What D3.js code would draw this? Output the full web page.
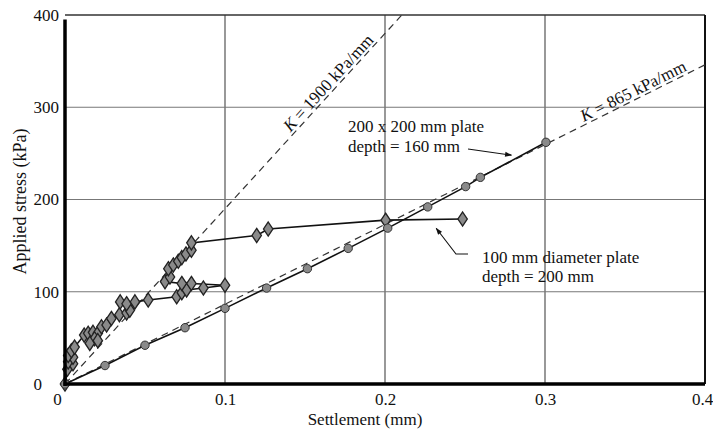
<!DOCTYPE html>
<html>
<head>
<meta charset="utf-8">
<script src="https://cdn.jsdelivr.net/npm/d3@7"></script>
<style>
  html, body { margin: 0; padding: 0; background: #fff; }
  svg { display: block; font-family: "Liberation Serif", "Times New Roman", serif; }
</style>
</head>
<body>
<svg id="chart" width="713" height="438"></svg>
<script>
// Axis ticks
const settlementTicks = [0, 0.1, 0.2, 0.3, 0.4];
const stressTicks = [0, 100, 200, 300, 400];

// 200 x 200 mm plate, depth 160 mm (circles)
const squareSettlement = [0, 0.025, 0.05, 0.075, 0.1, 0.126, 0.1515, 0.177, 0.2017, 0.2267, 0.2504, 0.2596, 0.3006];
const squareStress     = [0, 20, 42, 61, 82, 104, 125, 147, 169, 192, 214, 224, 262];

// 100 mm diameter plate, depth 200 mm (diamonds), load/unload cycles
const roundSettlement = [0, 0.0015, 0.005, 0.002, 0.005, 0.002, 0.004, 0.006, 0.012, 0.0145, 0.0175, 0.0205,
  0.0185, 0.0155, 0.0205, 0.0228, 0.026, 0.029, 0.034, 0.0385, 0.0405, 0.0345, 0.0385, 0.0437, 0.052,
  0.0698, 0.073, 0.076, 0.0865, 0.1, 0.079, 0.073, 0.0625, 0.0656, 0.0646, 0.0677, 0.0708, 0.073,
  0.0756, 0.079, 0.079, 0.1198, 0.127, 0.2004, 0.2485];
const roundStress = [0, 16, 22, 24, 29, 31, 36, 40, 53, 55, 56, 55,
  49, 44, 47, 62, 64, 71, 75, 77, 80, 89, 87, 89, 91,
  94.5, 99, 102, 104, 107, 109, 109, 111, 116, 125, 129, 133, 137,
  141, 145, 153, 161, 168, 177.6, 178.8];

// Secant stiffness lines (kPa/mm)
const stiffnessValues = [1900, 865];
const stiffnessLabels = ["1900 kPa/mm", "865 kPa/mm"];

const svg = d3.select("#chart");
const x = d3.scaleLinear().domain([0, 0.4]).range([65, 705]);
const y = d3.scaleLinear().domain([0, 400]).range([384, 15]);

// Grid
const grid = svg.append("g");
grid.selectAll("line.v").data(settlementTicks.filter(d => d > 0 && d < 0.4)).join("line")
  .attr("x1", d => x(d)).attr("x2", d => x(d)).attr("y1", y(0)).attr("y2", y(400))
  .attr("stroke", "#444").attr("stroke-width", 1.1);
grid.selectAll("line.h").data(stressTicks.filter(d => d > 0 && d < 400)).join("line")
  .attr("y1", d => y(d)).attr("y2", d => y(d)).attr("x1", x(0)).attr("x2", x(0.4))
  .attr("stroke", "#777").attr("stroke-width", 1.1);

// Frame: thin top and right
svg.append("line").attr("x1", x(0)).attr("x2", x(0.4)).attr("y1", y(400)).attr("y2", y(400))
  .attr("stroke", "#333").attr("stroke-width", 1.5);
svg.append("line").attr("x1", x(0.4)).attr("x2", x(0.4)).attr("y1", y(400)).attr("y2", y(0))
  .attr("stroke", "#111").attr("stroke-width", 2);

// Stiffness lines
const dash = svg.append("g");
stiffnessValues.forEach((k, i) => {
  const xEnd = Math.min(0.4, 400 / k);
  dash.append("line")
    .attr("x1", x(0)).attr("y1", y(0)).attr("x2", x(xEnd)).attr("y2", y(k * xEnd))
    .attr("stroke", "#333").attr("stroke-width", 1.2).attr("stroke-dasharray", "7,5");
});

// Stiffness labels along the lines
const labelAt = [0.1685, 0.3575];
stiffnessValues.forEach((k, i) => {
  const px = x(labelAt[i]), py = y(k * labelAt[i]);
  const ang = Math.atan2(y(k) - y(0), x(1) - x(0)) * 180 / Math.PI;
  const t = svg.append("text")
    .attr("transform", `translate(${px},${py}) rotate(${ang})`)
    .attr("text-anchor", "middle").attr("dy", -3)
    .attr("font-size", 17).attr("fill", "#111");
  t.append("tspan").attr("font-style", "italic").text("K");
  t.append("tspan").text(" = " + stiffnessLabels[i]);
});

const line = d3.line().x(d => x(d[0])).y(d => y(d[1]));
const squareData = squareSettlement.map((s, i) => [s, squareStress[i]]);
const roundData = roundSettlement.map((s, i) => [s, roundStress[i]]);

svg.append("path").datum(squareData).attr("d", line)
  .attr("fill", "none").attr("stroke", "#111").attr("stroke-width", 1.6);
svg.append("path").datum(roundData).attr("d", line)
  .attr("fill", "none").attr("stroke", "#111").attr("stroke-width", 1.6);

svg.append("g").selectAll("path").data(roundData).join("path")
  .attr("d", d3.symbol(d3.symbolDiamond, 58))
  .attr("transform", d => `translate(${x(d[0])},${y(d[1])}) scale(1.15,1)`)
  .attr("fill", "#8a8a8a").attr("stroke", "#222").attr("stroke-width", 1.2);
svg.append("g").selectAll("circle").data(squareData).join("circle")
  .attr("cx", d => x(d[0])).attr("cy", d => y(d[1])).attr("r", 4.2)
  .attr("fill", "#8a8a8a").attr("stroke", "#333").attr("stroke-width", 1);

// Axes (thick left and bottom)
const xAxis = svg.append("g").attr("transform", `translate(0,${y(0)})`)
  .call(d3.axisBottom(x).tickValues(settlementTicks).tickSize(0).tickPadding(9)
    .tickFormat(d => d === 0 ? "0" : d3.format(".1f")(d)));
xAxis.select(".domain").remove();
xAxis.selectAll("text").attr("font-size", 17).attr("font-family", "Liberation Serif").attr("fill", "#111");
xAxis.selectAll(".tick").filter(d => d === 0).select("text").attr("x", -8);
xAxis.selectAll(".tick").filter(d => d === 0.4).select("text").attr("x", -3);

const yAxis = svg.append("g").attr("transform", `translate(${x(0)},0)`)
  .call(d3.axisLeft(y).tickValues(stressTicks).tickSize(0).tickPadding(6));
yAxis.select(".domain").remove();
yAxis.selectAll("text").attr("font-size", 17).attr("font-family", "Liberation Serif").attr("fill", "#111");
yAxis.selectAll(".tick").filter(d => d === 0).select("text").attr("x", -23);

svg.append("line").attr("x1", x(0)).attr("x2", x(0)).attr("y1", y(395)).attr("y2", y(0) + 2)
  .attr("stroke", "#000").attr("stroke-width", 3.5);
svg.append("line").attr("x1", x(0) - 1.5).attr("x2", x(0.4)).attr("y1", y(0)).attr("y2", y(0))
  .attr("stroke", "#000").attr("stroke-width", 3.5);

// Axis titles
svg.append("text").attr("x", x(0.2) - 20).attr("y", 425).attr("text-anchor", "middle")
  .attr("font-size", 17).attr("fill", "#111").text("Settlement (mm)");
svg.append("text").attr("transform", `translate(26,${y(200) + 2}) rotate(-90)`).attr("text-anchor", "middle")
  .attr("font-size", 18).attr("fill", "#111").text("Applied stress (kPa)");

// Arrow marker
svg.append("defs").append("marker").attr("id", "arrow")
  .attr("viewBox", "0 0 10 10").attr("refX", 9).attr("refY", 5)
  .attr("markerWidth", 9).attr("markerHeight", 7).attr("orient", "auto-start-reverse")
  .attr("markerUnits", "userSpaceOnUse")
  .append("path").attr("d", "M0,1.5 L10,5 L0,8.5 z").attr("fill", "#111");

// Annotations
const ann = svg.append("g").attr("font-size", 17).attr("fill", "#111");
ann.append("text").attr("x", 348).attr("y", 132).text("200 x 200 mm plate");
ann.append("text").attr("x", 348).attr("y", 152).text("depth = 160 mm");
svg.append("line").attr("x1", 468).attr("y1", 149).attr("x2", x(0.279)).attr("y2", y(247) - 1)
  .attr("stroke", "#111").attr("stroke-width", 1.1).attr("marker-end", "url(#arrow)");

ann.append("text").attr("x", 482).attr("y", 263).text("100 mm diameter plate");
ann.append("text").attr("x", 482).attr("y", 282).text("depth = 200 mm");
svg.append("path").attr("d", `M468,254 L456,254 L${x(0.232)},${y(171) + 2}`)
  .attr("fill", "none").attr("stroke", "#111").attr("stroke-width", 1.1).attr("marker-end", "url(#arrow)");
</script>
</body>
</html>
